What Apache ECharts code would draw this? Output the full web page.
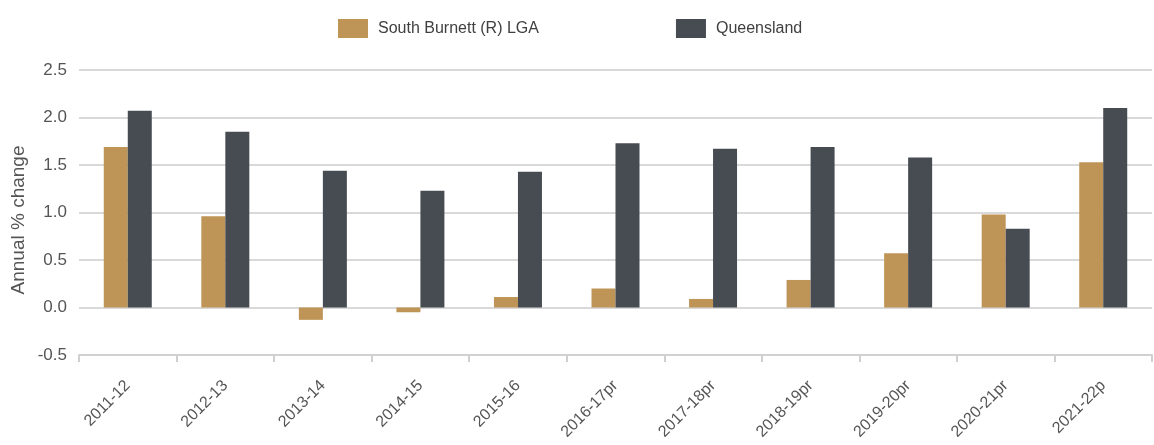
<!DOCTYPE html>
<html>
<head>
<meta charset="utf-8">
<script src="https://cdn.jsdelivr.net/npm/echarts@6/dist/echarts.min.js"></script>
<style>
  html, body { margin: 0; padding: 0; background: #ffffff; }
  #chart { width: 1154px; height: 445px; }
</style>
</head>
<body>
<div id="chart"></div>
<script>
// Financial years
const categories = ['2011-12', '2012-13', '2013-14', '2014-15', '2015-16', '2016-17pr',
  '2017-18pr', '2018-19pr', '2019-20pr', '2020-21pr', '2021-22p'];

// Annual % change in gross regional product
const southBurnett = [1.69, 0.96, -0.13, -0.05, 0.11, 0.20, 0.09, 0.29, 0.57, 0.98, 1.53];
const queensland   = [2.07, 1.85, 1.44, 1.23, 1.43, 1.73, 1.67, 1.69, 1.58, 0.83, 2.10];

const yTicks = { min: -0.5, max: 2.5, interval: 0.5 };

const textColor = '#555555';
const font = 'Liberation Sans, Arial, sans-serif';

const chart = echarts.init(document.getElementById('chart'));
chart.setOption({
  animation: false,
  textStyle: { fontFamily: font },
  legend: {
    top: 14,
    left: 333,
    icon: 'rect',
    itemWidth: 30,
    itemHeight: 19,
    itemGap: 137,
    textStyle: { color: '#404040', fontSize: 16, fontFamily: font, padding: [0, 0, 0, 5] },
    data: ['South Burnett (R) LGA', 'Queensland']
  },
  grid: { left: 79, right: 2, top: 70, bottom: 90 },
  graphic: [{
    type: 'text',
    x: 19,
    y: 220,
    rotation: Math.PI / 2,
    style: {
      text: 'Annual % change',
      fill: textColor,
      font: '19px ' + font,
      align: 'center',
      verticalAlign: 'middle'
    }
  }],
  xAxis: {
    type: 'category',
    data: categories,
    axisLine: { onZero: false, lineStyle: { color: '#d0d0d0', width: 2 } },
    axisTick: { show: true, length: 7, lineStyle: { color: '#d0d0d0', width: 2 } },
    axisLabel: { rotate: 45, color: textColor, fontSize: 16, margin: 28, fontFamily: font }
  },
  yAxis: {
    type: 'value',
    min: yTicks.min,
    max: yTicks.max,
    interval: yTicks.interval,
    axisLine: { show: false },
    axisTick: { show: false },
    axisLabel: {
      color: textColor, fontSize: 17, margin: 12, fontFamily: font,
      formatter: v => v.toFixed(1)
    },
    splitLine: { lineStyle: { color: '#d9d9d9', width: 2 } }
  },
  series: [
    {
      name: 'South Burnett (R) LGA',
      type: 'bar',
      data: southBurnett,
      barWidth: 24,
      barGap: '0%',
      itemStyle: { color: '#BE9457' }
    },
    {
      name: 'Queensland',
      type: 'bar',
      data: queensland,
      barWidth: 24,
      itemStyle: { color: '#474B52' }
    }
  ]
});
</script>
</body>
</html>
